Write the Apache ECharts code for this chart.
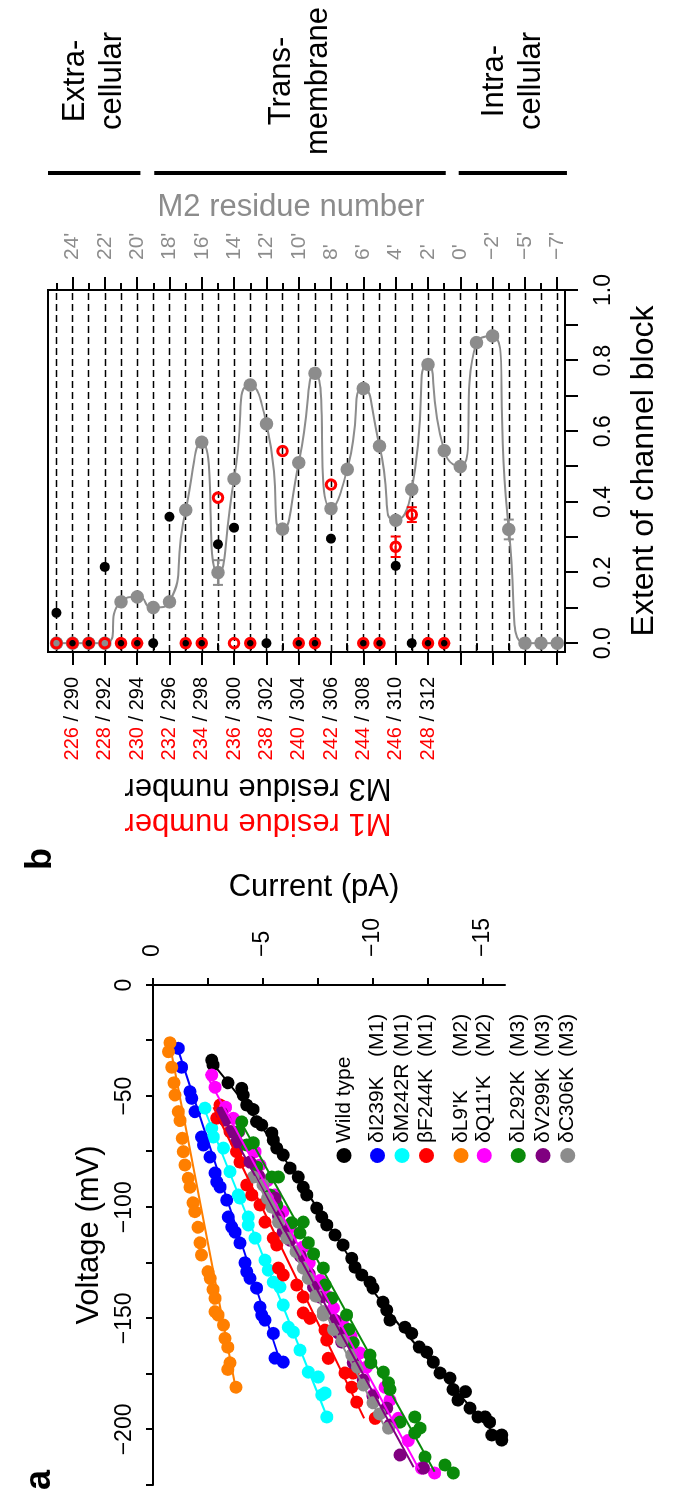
<!DOCTYPE html>
<html><head><meta charset="utf-8">
<script src="https://cdn.jsdelivr.net/npm/echarts@6/dist/echarts.min.js"></script>
<style>
html,body{margin:0;padding:0;width:675px;height:1496px;overflow:hidden;background:#fff}
#wrap{position:absolute;left:0;top:0;width:1496px;height:675px;transform-origin:0 0;transform:translate(0,1496px) rotate(-90deg);}
#chart{width:1496px;height:675px}
</style></head><body>
<div id="wrap"><div id="chart"></div></div>
<script>
// ---------------- Panel a data: [voltage (mV), current (pA)] ----------------
const namesA = ['Wild type','δI239K','δM242R','βF244K',"δL9'K","δQ11'K",'δL292K','δV299K','δC306K'];
const domainA = ['','(M1)','(M1)','(M1)','(M2)','(M2)','(M3)','(M3)','(M3)'];
const wildType = [[-33.8,-2.67],[-36,-2.73],[-44,-3.41],[-46.5,-4.03],[-49.5,-4.1],[-54,-4.26],[-56,-4.55],[-61.5,-4.71],[-63,-4.94],[-66.6,-5.4],[-69.8,-5.47],[-73.4,-5.62],[-76.5,-5.92],[-82.4,-6.23],[-86.4,-6.6],[-91,-6.83],[-94.5,-6.99],[-100.4,-7.44],[-104.4,-7.67],[-108,-7.9],[-112.5,-8.27],[-117,-8.64],[-123,-9.03],[-127,-9.18],[-130.5,-9.49],[-133.7,-9.86],[-136.4,-10.0],[-142.7,-10.45],[-146.3,-10.62],[-150.8,-10.77],[-154,-11.45],[-156.8,-11.76],[-162.9,-12.1],[-165.2,-12.44],[-169.7,-12.74],[-174.6,-13.05],[-176.9,-13.5],[-182,-13.64],[-183,-14.2],[-186.8,-13.86],[-190.4,-14.41],[-194.4,-14.77],[-194.4,-15.1],[-196.7,-15.3],[-202.5,-15.4],[-202.5,-15.85],[-204.8,-15.85]];
const dI239K = [[-28.5,-1.15],[-37,-1.3],[-48,-1.68],[-51,-1.76],[-57,-1.91],[-68.4,-2.21],[-72,-2.29],[-77.4,-2.59],[-84.6,-2.82],[-88.6,-2.9],[-90.9,-3.05],[-96.8,-3.35],[-104.4,-3.42],[-108.9,-3.58],[-111.2,-3.73],[-116.1,-3.95],[-125,-4.18],[-129,-4.26],[-132,-4.41],[-136.4,-4.71],[-144.9,-4.86],[-148.5,-4.94],[-150.8,-5.09],[-156.8,-5.47],[-167.9,-5.55],[-169.7,-5.92]];
const dM242R = [[-55.4,-2.36],[-64.4,-2.67],[-68.4,-2.74],[-73.4,-3.2],[-84,-3.5],[-94.5,-3.88],[-95.9,-3.95],[-104.4,-4.33],[-108,-4.33],[-113.9,-4.64],[-123.8,-5.09],[-128.3,-5.24],[-133.7,-5.47],[-135.9,-5.77],[-144,-5.92],[-154,-6.15],[-156.2,-6.38],[-164.3,-6.68],[-174.2,-7.06],[-176.4,-7.51],[-184.5,-7.67],[-183.6,-7.82],[-194.4,-7.9]];
const bF244K = [[-54,-3.05],[-59.9,-2.9],[-57,-3.12],[-66,-3.5],[-75,-3.8],[-79.7,-3.95],[-90,-4.26],[-94.5,-4.49],[-99,-4.86],[-106.7,-5.09],[-113.9,-5.47],[-117,-5.62],[-127.4,-5.7],[-130.5,-5.92],[-135,-6.53],[-140.4,-6.83],[-147.6,-6.83],[-150,-7.14],[-155.3,-7.82],[-159.8,-7.9],[-168,-7.97],[-174.6,-8.73],[-174.6,-9.1],[-181,-9.03],[-187.7,-9.26],[-195,-10.1]];
const dL9K = [[-26,-0.77],[-30,-0.7],[-37,-0.85],[-44,-0.95],[-49.5,-1.0],[-57,-1.15],[-61,-1.23],[-69,-1.33],[-75,-1.38],[-81,-1.45],[-87,-1.6],[-91,-1.68],[-98,-1.82],[-102,-1.9],[-109,-2.05],[-116,-2.14],[-121.5,-2.2],[-129,-2.5],[-132,-2.6],[-137,-2.73],[-141,-2.82],[-147,-2.82],[-148.5,-2.96],[-153,-3.2],[-159,-3.27],[-163,-3.4],[-170,-3.5],[-173,-3.4],[-181,-3.77]];
const dQ11K = [[-40.5,-2.67],[-46,-2.82],[-55,-3.3],[-60,-3.65],[-66,-3.9],[-75,-4.64],[-81,-4.86],[-88,-5.2],[-94.5,-5.55],[-102,-5.9],[-109,-6.23],[-118,-6.8],[-125,-7.1],[-133,-7.6],[-140,-7.9],[-145.4,-8.2],[-152,-8.6],[-158,-9.0],[-165.6,-9.4],[-172,-9.7],[-181,-10.55],[-184.5,-10.0],[-186.8,-10.77],[-195,-11.15],[-205,-11.6],[-217.4,-12.2],[-219.6,-12.8]];
const dL292K = [[-61.6,-4.03],[-66,-3.88],[-72,-4.26],[-71,-4.56],[-81.9,-4.71],[-86.4,-5.4],[-86.4,-5.7],[-94.5,-5.32],[-99,-5.62],[-107,-6.3],[-106.7,-6.83],[-111.6,-6.68],[-116,-7.06],[-121,-7.3],[-127.4,-7.74],[-135,-7.82],[-140.9,-8.12],[-148.5,-8.8],[-155,-8.9],[-161,-9.1],[-166.5,-9.86],[-170,-9.9],[-174.2,-10.47],[-179,-10.7],[-182,-10.77],[-194.4,-11.9],[-196.7,-11.23],[-199.4,-12.14],[-201.6,-11.9],[-212.4,-12.36],[-216,-13.27],[-219.6,-13.65]];
const dV299K = [[-57.6,-3.12],[-60.8,-3.27],[-66,-3.55],[-70.6,-3.8],[-79.7,-4.41],[-86,-4.8],[-95.9,-5.55],[-104,-5.7],[-111,-5.92],[-114.8,-6.23],[-122,-6.7],[-130,-7.1],[-136,-7.3],[-140.4,-7.6],[-150.8,-8.27],[-156.6,-8.42],[-160.7,-8.58],[-170,-9.1],[-177.8,-9.56],[-185,-10.0],[-190.4,-10.62],[-198,-10.77],[-211.5,-11.23],[-217.4,-12.29]];
const dC306K = [[-86.4,-4.56],[-90,-5.0],[-96,-5.2],[-100,-5.4],[-106.7,-5.7],[-113.9,-6.08],[-120,-6.5],[-127.4,-6.83],[-132,-7.06],[-140,-7.4],[-147,-7.74],[-148.5,-7.74],[-155,-8.2],[-160,-8.6],[-166.5,-9.03],[-172,-9.3],[-180,-9.56],[-188,-10.0],[-193,-10.3],[-199.4,-10.7]];
// fitted lines [voltage, current]
const fitWildType = [[-34,-2.6],[-50,-3.9],[-75,-5.75],[-100,-7.45],[-125,-9.1],[-150,-10.95],[-175,-13.1],[-205,-15.8]];
const fitI239K = [[-28,-1.1],[-170,-5.8]];
const fitM242R = [[-55,-2.3],[-194,-7.9]];
const fitF244K = [[-55,-2.75],[-195,-9.6]];
const fitL9K = [[-26,-0.75],[-181,-3.75]];
const fitQ11K = [[-40,-2.4],[-218,-12.1]];
const fitL292K = [[-60,-3.9],[-219,-12.8]];
const fitV299K = [[-55,-2.95],[-217,-11.85]];
const fitC306K = [[-86,-4.6],[-200,-10.6]];
const voltageTicks = [-225,0];
const voltageLabels = [0,-50,-100,-150,-200];
const currentTicks = [0,-2.5,-5,-7.5,-10,-12.5,-15];
const currentLabels = [0,-5,-10,-15];

// ---------------- Panel b data (residue index 0..31 along M2) ----------------
const m2Block = [0,0,0,0,0.117,0.131,0.101,0.117,0.377,0.569,0.200,0.465,0.731,0.621,0.323,0.511,0.764,0.381,0.492,0.721,0.558,0.348,0.435,0.789,0.545,0.500,0.851,0.870,0.322,0,0,0];
const m3Block = [0.086,0,0,0.216,0,0,0,0.358,0,0,0.280,0.327,0,0,null,0,0,0.296,null,0,0,0.219,0,0,0];
const m1Block = [0,0,0,0,0,0,null,null,0,0,0.412,0,0,null,0.544,0,0,0.449,null,0,0,0.273,0.364,0,0];
const m2Err = [[10,0.035],[28,0.028]];
const m1Err = [[21,0.029],[22,0.021]];
const m2TickPos = [1,3,5,7,9,11,13,15,17,19,21,23,25,27,29,31];
const m2Labels = ["24'","22'","20'","18'","16'","14'","12'","10'","8'","6'","4'","2'","0'","\u22122'","\u22125'","\u22127'"];
const m13Pos = [1,3,5,7,9,11,13,15,17,19,21,23];
const m1Labels = [226,228,230,232,234,236,238,240,242,244,246,248];
const m3Labels = [290,292,294,296,298,300,302,304,306,308,310,312];
const minorPos = [0,2,4,6,8,10,12,14,16,18,20,22,24,26,28,30];
const extentTicks = [0,0.1,0.2,0.3,0.4,0.5,0.6,0.7,0.8,0.9,1.0];
const extentLabels = [0,0.2,0.4,0.6,0.8,1.0];
const regionNames = ['Extra-\ncellular','Trans-\nmembrane','Intra-\ncellular'];
const regionStart = [-0.52,6.05,24.9];
const regionEnd = [5.2,24.1,31.6];

// ---------------- styling ----------------
const FONT = "'Liberation Sans', Arial, Helvetica, sans-serif";
const colorsA = ['#000000','#0000ff','#00ffff','#ff0000','#ff7f00','#ff00ff','#0a8a0a','#800080','#8c8c8c'];
const dataA = [wildType,dI239K,dM242R,bF244K,dL9K,dQ11K,dL292K,dV299K,dC306K];
const fitsA = [fitWildType,fitI239K,fitM242R,fitF244K,fitL9K,fitQ11K,fitL292K,fitV299K,fitC306K];
const GRAY = '#8c8c8c';
const minus = v => String(v).replace('-', '\u2212');
const axisLineStyle = {color:'#000', width:2};

const chart = echarts.init(document.getElementById('chart'), null, {width:1496, height:675, renderer:'canvas'});

const series = [];
dataA.forEach((d,i)=>{
  series.push({name:namesA[i], type:'scatter', xAxisIndex:0, yAxisIndex:0, data:d, symbol:'circle', symbolSize:13,
    itemStyle:{color:colorsA[i], opacity:1}, z:2, silent:true});
  series.push({name:namesA[i]+' fit', type:'line', xAxisIndex:0, yAxisIndex:0, data:fitsA[i], symbol:'none', showSymbol:false,
    smooth:fitsA[i].length>2?0.3:false,
    lineStyle:{color:colorsA[i], width:2}, itemStyle:{color:colorsA[i]}, z:3, silent:true});
});

// panel b
series.push({name:'M2', type:'line', xAxisIndex:1, yAxisIndex:1, data:m2Block.map((v,k)=>[v,k]), smooth:0.7,
  symbol:'circle', symbolSize:13.5, showSymbol:true, showAllSymbol:true,
  lineStyle:{color:GRAY, width:2}, itemStyle:{color:GRAY, opacity:1}, z:2, silent:true,
  markLine:{silent:true, symbol:'none', z:1, animation:false, label:{show:false}, emphasis:{disabled:true},
    lineStyle:{color:'#000', width:1.3, type:[7,4]}, data:m2Block.map((v,k)=>({yAxis:k}))}});
series.push({name:'M3', type:'scatter', xAxisIndex:1, yAxisIndex:1,
  data:m3Block.map((v,k)=>v==null?null:[v,k]).filter(Boolean), symbol:'circle', symbolSize:10,
  itemStyle:{color:'#000', opacity:1}, z:3, silent:true});
series.push({name:'M1', type:'scatter', xAxisIndex:1, yAxisIndex:1,
  data:m1Block.map((v,k)=>v==null?null:[v,k]).filter(Boolean), symbol:'circle', symbolSize:9.5,
  itemStyle:{color:'rgba(0,0,0,0)', borderColor:'#ff0000', borderWidth:3, opacity:1}, z:4, silent:true});
function errSeries(list, values, color){
  return {type:'custom', xAxisIndex:1, yAxisIndex:1, silent:true, z:5, clip:false,
    data:list.map(e=>[e[0], values[e[0]]-e[1], values[e[0]]+e[1]]),
    encode:{x:[1,2], y:0},
    renderItem:(params, api)=>{
      const k = api.value(0), lo = api.value(1), hi = api.value(2);
      const p1 = api.coord([lo,k]), p2 = api.coord([hi,k]);
      const h = 5, st = {stroke:color, lineWidth:2};
      return {type:'group', children:[
        {type:'line', shape:{x1:p1[0],y1:p1[1],x2:p2[0],y2:p2[1]}, style:st},
        {type:'line', shape:{x1:p1[0],y1:p1[1]-h,x2:p1[0],y2:p1[1]+h}, style:st},
        {type:'line', shape:{x1:p2[0],y1:p2[1]-h,x2:p2[0],y2:p2[1]+h}, style:st}
      ]};
    }};
}
series.push(errSeries(m2Err, m2Block, GRAY));
series.push(errSeries(m1Err, m1Block, '#ff0000'));

const legendGroups = [[0],[1,2,3],[4,5],[6,7,8]];
const legendTops = [332.5, 366, 449.5, 506.8];
const legendGaps = [0, 1.5, 0.3, 1.7];
const legends = legendGroups.map((g,gi)=>({
  orient:'vertical', left:333, top:legendTops[gi], padding:0, itemGap:legendGaps[gi],
  itemWidth:15, itemHeight:15, icon:'circle', selectedMode:false,
  data:g.map(i=>namesA[i]),
  formatter:name=>{const i=namesA.indexOf(name); return domainA[i] ? '{n|'+name+'}{m|'+domainA[i]+'}' : '{m|'+name+'}';},
  textStyle:{fontFamily:FONT, fontSize:21, color:'#000', lineHeight:23,
    rich:{n:{width:86, fontSize:21, fontFamily:FONT, color:'#000', lineHeight:23}, m:{fontSize:21, fontFamily:FONT, color:'#000', lineHeight:23}}}
}));

const resAxisBase = {gridIndex:1, type:'value', inverse:true, min:-0.52, max:31.48, splitLine:{show:false}, nameMoveOverlap:false};

const option = {
  animation:false,
  backgroundColor:'#fff',
  textStyle:{fontFamily:FONT},
  grid:[
    {left:11, right:985, top:153, bottom:170, containLabel:false, outerBoundsMode:'none'},
    {left:844, right:290, top:48, bottom:110, containLabel:false, outerBoundsMode:'none', show:true, borderColor:'#000', borderWidth:2, backgroundColor:'rgba(0,0,0,0)'}
  ],
  legend:legends,
  xAxis:[
    {gridIndex:0, type:'value', position:'top', min:voltageTicks[0], max:voltageTicks[1], interval:25,
      axisLine:{show:true, onZero:false, lineStyle:axisLineStyle},
      axisTick:{show:true, length:7, lineStyle:axisLineStyle},
      axisLabel:{customValues:voltageLabels, formatter:minus, fontSize:23, color:'#000', margin:17, fontFamily:FONT},
      splitLine:{show:false}, nameMoveOverlap:false,
      name:'Voltage (mV)', nameLocation:'middle', nameGap:48, nameTextStyle:{fontSize:31, color:'#000', fontFamily:FONT}},
    {gridIndex:1, type:'value', position:'bottom', min:-0.025, max:1,
      axisLine:{show:true, onZero:false, lineStyle:axisLineStyle},
      axisTick:{show:true, customValues:extentTicks, length:13, lineStyle:axisLineStyle},
      axisLabel:{customValues:extentLabels, formatter:v=>Number(v).toFixed(1), fontSize:23, color:'#000', margin:27, fontFamily:FONT},
      splitLine:{show:false}, nameMoveOverlap:false,
      name:'Extent of channel block', nameLocation:'middle', nameGap:63, nameTextStyle:{fontSize:32, color:'#000', fontFamily:FONT}}
  ],
  yAxis:[
    {gridIndex:0, type:'value', position:'right', min:-16, max:0,
      axisLine:{show:true, onZero:false, lineStyle:axisLineStyle},
      axisTick:{show:true, customValues:currentTicks, length:7, lineStyle:axisLineStyle},
      axisLabel:{customValues:currentLabels, formatter:minus, fontSize:23, color:'#000', margin:28, fontFamily:FONT},
      splitLine:{show:false}, nameMoveOverlap:false,
      name:'Current (pA)', nameLocation:'middle', nameRotate:-90, nameGap:82,
      nameTextStyle:{fontSize:31, color:'#000', fontFamily:FONT, padding:[0,30,0,0]}},
    Object.assign({}, resAxisBase, {position:'left',
      axisLine:{show:true, onZero:false, lineStyle:axisLineStyle},
      axisTick:{show:true, customValues:m2TickPos, length:13, lineStyle:axisLineStyle},
      axisLabel:{customValues:m13Pos, margin:25, fontSize:20, fontFamily:FONT,
        formatter:v=>{const i=m13Pos.indexOf(v); return i<0?'':'{r|'+m1Labels[i]+'}{k| / '+m3Labels[i]+'}';},
        rich:{r:{color:'#ff0000', fontSize:20, fontFamily:FONT}, k:{color:'#000', fontSize:20, fontFamily:FONT}}},
      name:'M3 residue number', nameLocation:'middle', nameRotate:90, nameGap:120,
      nameTextStyle:{fontSize:31, color:'#000', fontFamily:FONT, padding:[0,0,0,97]}}),
    Object.assign({}, resAxisBase, {position:'left',
      axisLine:{show:false},
      axisTick:{show:true, customValues:minorPos, length:7, lineStyle:axisLineStyle},
      axisLabel:{show:false},
      name:'M1 residue number', nameLocation:'middle', nameRotate:90, nameGap:155,
      nameTextStyle:{fontSize:31, color:'#ff0000', fontFamily:FONT, padding:[0,0,0,97]}}),
    Object.assign({}, resAxisBase, {position:'right',
      axisLine:{show:true, onZero:false, lineStyle:axisLineStyle},
      axisTick:{show:true, customValues:m2TickPos, length:13, lineStyle:axisLineStyle},
      axisLabel:{customValues:m2TickPos, margin:30, fontSize:21, color:GRAY, fontFamily:FONT,
        formatter:v=>{const i=m2TickPos.indexOf(v); return i<0?'':m2Labels[i];}},
      name:'M2 residue number', nameLocation:'middle', nameRotate:-90, nameGap:67,
      nameTextStyle:{fontSize:31, color:GRAY, fontFamily:FONT, padding:[0,31,0,0]}}),
    Object.assign({}, resAxisBase, {position:'right',
      axisLine:{show:false},
      axisTick:{show:true, customValues:minorPos, length:7, lineStyle:axisLineStyle},
      axisLabel:{show:false}})
  ],
  series:series
};
chart.setOption(option);

// annotations positioned through the residue axis scale
const yk = k => chart.convertToPixel({yAxisIndex:3}, k);
const graphic = [
  {type:'text', x:6, y:40, style:{text:'a', font:'bold 36px '+FONT, fill:'#000', align:'left', verticalAlign:'middle'}},
  {type:'text', x:626, y:41, style:{text:'b', font:'bold 36px '+FONT, fill:'#000', align:'left', verticalAlign:'middle'}}
];
regionNames.forEach((nm,i)=>{
  const y1 = yk(regionStart[i]), y2 = yk(regionEnd[i]);
  graphic.push({type:'rect', shape:{x:1321, y:y1, width:4, height:y2-y1}, style:{fill:'#000'}});
  graphic.push({type:'text', x:1415, y:(y1+y2)/2, style:{text:nm, font:'31px '+FONT, fill:'#000', align:'center', verticalAlign:'middle', lineHeight:37}});
});
chart.setOption({graphic:graphic});
</script>
</body></html>
